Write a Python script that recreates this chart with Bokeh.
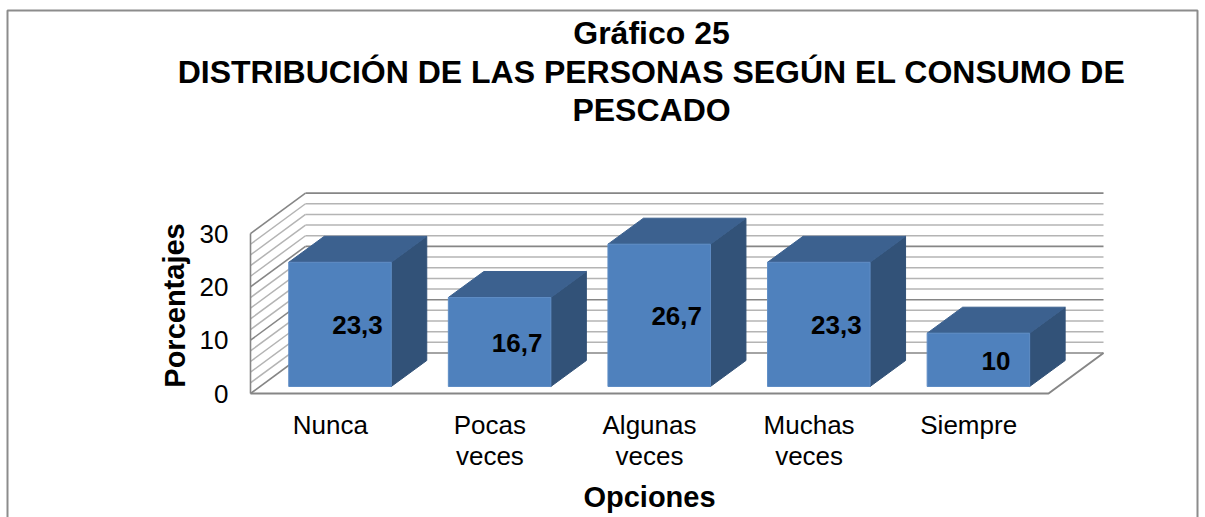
from bokeh.plotting import figure
from bokeh.models import LinearAxis, FixedTicker
from bokeh.core.properties import value
from bokeh.embed import file_html
from bokeh.resources import INLINE

# ---- data ----
categories = ["Nunca", "Pocas\nveces", "Algunas\nveces", "Muchas\nveces", "Siempre"]
values = [23.3, 16.7, 26.7, 23.3, 10]
value_labels = ["23,3", "16,7", "26,7", "23,3", "10"]
y_ticks = [0, 10, 20, 30]
title_lines = ["Gráfico 25", "DISTRIBUCIÓN DE LAS PERSONAS SEGÚN EL CONSUMO DE", "PESCADO"]
x_title = "Opciones"
y_title = "Porcentajes"

# ---- geometry: one category = CAT px, one percent = UNIT px ----
W, H = 1205, 517
CAT, UNIT = 159.6, 5.33
X0, Y0 = 250, 393          # page pixel of the front corner of the floor
FONT = value("Liberation Sans")


def dx(px):
    return px / CAT


def dy(px):
    return px / UNIT


def px_x(px):
    return (px - X0) / CAT


def px_y(py):
    return (Y0 - py) / UNIT


p = figure(width=W, height=H, output_backend="svg", toolbar_location=None,
           x_range=(px_x(0), px_x(W)), y_range=(px_y(H), px_y(0)),
           min_border=0, min_border_left=0, min_border_right=0,
           min_border_top=0, min_border_bottom=0)
p.xaxis.visible = False
p.yaxis.visible = False
p.grid.visible = False
p.outline_line_color = None
p.background_fill_color = "white"

n = len(categories)
WALL_DX, WALL_DY = dx(55), dy(40.5)
BAR_DX, BAR_DY = dx(35.5), dy(26)
BAR_W = 102.5 / CAT
SHIFT_X, BASE = dx(9.7), dy(7)

# chart frame
frame = "#8C8C8C"
p.multi_line([[px_x(7), px_x(7), px_x(1197), px_x(1197)]],
             [[px_y(517), px_y(10), px_y(10), px_y(517)]],
             line_color=frame, line_width=2)

# gridlines: back wall and left wall
for v in range(0, 31, 2):
    major = v % 10 == 0
    col = "#868686" if major else "#B4B4B4"
    lw = 1.6 if major else 1.5
    p.line([WALL_DX, n + WALL_DX], [v + WALL_DY, v + WALL_DY], line_color=col, line_width=lw)
    p.line([0, WALL_DX], [v, v + WALL_DY], line_color=col, line_width=lw)

# left edge and floor
p.line([0, 0], [0, 30], line_color="#868686", line_width=1.6)
p.line([0, n, n + WALL_DX], [0, 0, WALL_DY], line_color="#868686", line_width=2)

# 3-D bars
for i, v in enumerate(values):
    left = i + 0.5 + SHIFT_X - BAR_W / 2
    right = left + BAR_W
    top = BASE + v
    p.patch([right, right + BAR_DX, right + BAR_DX, right],
            [BASE, BASE + BAR_DY, top + BAR_DY, top], fill_color="#325278", line_color="#325278")
    p.patch([left, left + BAR_DX, right + BAR_DX, right],
            [top, top + BAR_DY, top + BAR_DY, top], fill_color="#3C618F", line_color="#3C618F")
    p.vbar(x=[(left + right) / 2], width=BAR_W, bottom=BASE, top=top,
           fill_color="#4F81BD", line_color="#5F8DC5", line_width=1)

# value labels
p.text(x=[i + 0.5 + SHIFT_X + dx(17.5) for i in range(n)],
       y=[BASE + v / 2 - dy(1) for v in values],
       text=value_labels, text_font=FONT, text_font_size="26px", text_font_style="bold",
       text_align="center", text_baseline="middle", text_color="black")

# value axis
yaxis = LinearAxis(ticker=FixedTicker(ticks=y_ticks), fixed_location=0)
yaxis.axis_line_color = None
yaxis.major_tick_line_color = None
yaxis.minor_tick_line_color = None
yaxis.major_label_standoff = 16
yaxis.major_label_text_font = "Liberation Sans"
yaxis.major_label_text_font_size = "26px"
yaxis.major_label_text_color = "black"
p.add_layout(yaxis, "left")

# category axis
xaxis = LinearAxis(ticker=FixedTicker(ticks=[i + 0.5 for i in range(n)]), fixed_location=px_y(393))
xaxis.major_label_overrides = {i + 0.5: c for i, c in enumerate(categories)}
xaxis.axis_line_color = None
xaxis.major_tick_line_color = None
xaxis.minor_tick_line_color = None
xaxis.major_label_standoff = 10
xaxis.major_label_text_font = "Liberation Sans"
xaxis.major_label_text_font_size = "26px"
xaxis.major_label_text_color = "black"
xaxis.major_label_text_line_height = 1.05
p.add_layout(xaxis, "below")

# titles
for line, py in zip(title_lines, [32, 71, 109]):
    p.text(x=[px_x(651)], y=[px_y(py)], text=[line], text_font=FONT, text_font_size="32px",
           text_font_style="bold", text_align="center", text_baseline="middle", text_color="black")
p.text(x=[px_x(649)], y=[px_y(496)], text=[x_title], text_font=FONT, text_font_size="29px",
       text_font_style="bold", text_align="center", text_baseline="middle", text_color="black")
p.text(x=[px_x(174)], y=[px_y(305)], text=[y_title], angle=1.5708, text_font=FONT,
       text_font_size="29px", text_font_style="bold", text_align="center",
       text_baseline="middle", text_color="black")

open("out.html", "w").write(file_html(p, INLINE))
